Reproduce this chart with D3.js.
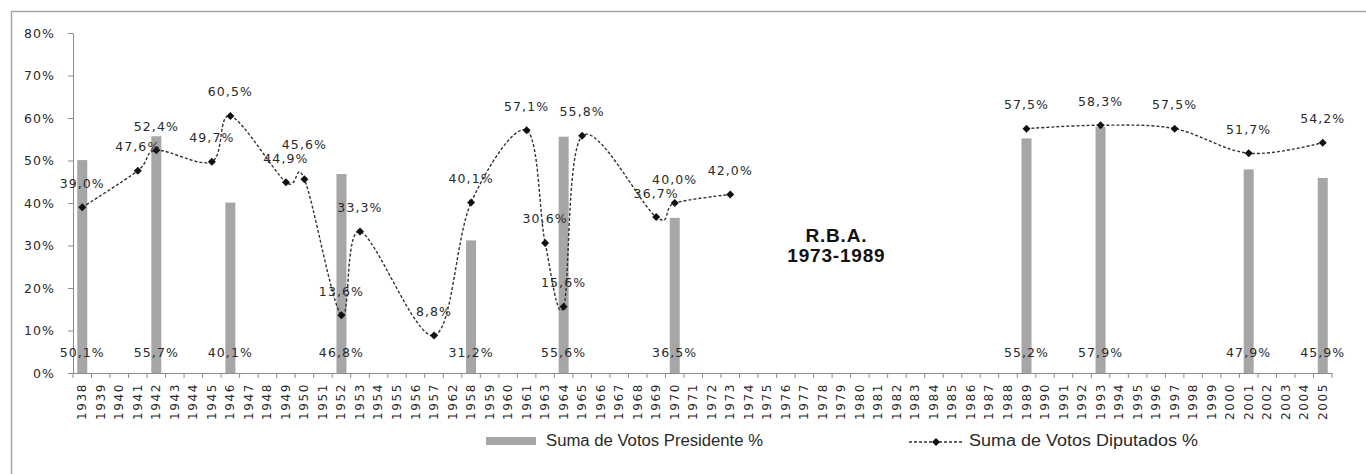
<!DOCTYPE html>
<html><head><meta charset="utf-8">
<script src="https://cdn.jsdelivr.net/npm/d3@7"></script>
<style>
html,body{margin:0;padding:0;background:#fff;overflow:hidden;}
</style></head>
<body>
<svg id="chart" width="1366" height="474"></svg>
<script>
const categories = ["1938","1939","1940","1941","1942","1943","1944","1945","1946","1947","1948","1949","1950","1951","1952","1953","1954","1955","1956","1957","1962","1958","1959","1960","1961","1963","1964","1965","1966","1967","1968","1969","1970","1971","1972","1973","1974","1975","1976","1977","1978","1979","1980","1981","1982","1983","1984","1985","1986","1987","1988","1989","1990","1991","1992","1993","1994","1995","1996","1997","1998","1999","2000","2001","2002","2003","2004","2005"];
const presidenteYears = ["1938","1942","1946","1952","1958","1964","1970","1989","1993","2001","2005"];
const presidenteValues = [50.1,55.7,40.1,46.8,31.2,55.6,36.5,55.2,57.9,47.9,45.9];
const diputadosYears = ["1938","1941","1942","1945","1946","1949","1950","1952","1953","1957","1958","1961","1963","1964","1965","1969","1970","1973","1989","1993","1997","2001","2005"];
const diputadosValues = [39.0,47.6,52.4,49.7,60.5,44.9,45.6,13.6,33.3,8.8,40.1,57.1,30.6,15.6,55.8,36.7,40.0,42.0,57.5,58.3,57.5,51.7,54.2];
const yTicks = [0,10,20,30,40,50,60,70,80];
const gapLabel = ["R.B.A.","1973-1989"];
const gapStart = "1973", gapEnd = "1989";
const legendLabels = ["Suma de Votos Presidente %","Suma de Votos Diputados %"];

(function(){
const fmt = v => v.toFixed(1).replace(".", ",") + "%";
const svg = d3.select("#chart");
const pLeft = 73, pRight = 1332, pTop = 33, pBottom = 373;

// outer frame
svg.append("rect").attr("x",11.5).attr("y",11.5).attr("width",1400).attr("height",500)
  .attr("fill","none").attr("stroke","#a6a6a6").attr("stroke-width",1.5);

const x = d3.scaleBand().domain(categories).range([pLeft,pRight]).padding(0);
const y = d3.scaleLinear().domain([0,80]).range([pBottom,pTop]);
const cx = c => x(c) + x.bandwidth()/2;

const labelFont = "'DejaVu Sans', Verdana, sans-serif";
const textCol = "#2a2a2a";

// y axis
const yAxis = svg.append("g").attr("transform",`translate(${pLeft},0)`)
  .call(d3.axisLeft(y).tickValues(yTicks).tickSize(5).tickPadding(13).tickFormat(d => d + "%"));
yAxis.select(".domain").attr("stroke","#8c8c8c");
yAxis.selectAll(".tick line").attr("stroke","#8c8c8c");
yAxis.selectAll("text").attr("font-family",labelFont).attr("font-size",12.5)
  .attr("letter-spacing",1.1).attr("fill",textCol);

// bars
const presData = presidenteYears.map((c,i)=>({c, v:presidenteValues[i]}));
const barW = 10;
svg.append("g").selectAll("rect").data(presData).join("rect")
  .attr("x", d => cx(d.c) - barW/2).attr("width", barW)
  .attr("y", d => y(d.v)).attr("height", d => y(0) - y(d.v))
  .attr("fill","#a6a6a6");

// x axis
const xAxis = svg.append("g").attr("transform",`translate(0,${pBottom})`)
  .call(d3.axisBottom(x).tickSize(0).tickFormat(""));
xAxis.select(".domain").attr("stroke","#8c8c8c");
xAxis.selectAll(".tick").remove();
const bounds = categories.map(c => x(c)).concat([pRight]);
svg.append("g").selectAll("line").data(bounds).join("line")
  .attr("x1", d=>d).attr("x2", d=>d).attr("y1", pBottom).attr("y2", pBottom+5)
  .attr("stroke","#8c8c8c");
svg.append("g").selectAll("text").data(categories).join("text")
  .attr("transform", c => `translate(${cx(c)+4},383) rotate(-90)`)
  .attr("text-anchor","end").attr("font-family",labelFont).attr("font-size",12)
  .attr("letter-spacing",1.6).attr("fill",textCol).text(c => c);

// line (two periods, broken by the R.B.A. gap)
const dipData = diputadosYears.map((c,i)=>({c, v:diputadosValues[i]}));
const gi = categories.indexOf(gapStart);
const seg1 = dipData.filter(d => categories.indexOf(d.c) <= gi);
const seg2 = dipData.filter(d => categories.indexOf(d.c) >= categories.indexOf(gapEnd));
const line = d3.line().x(d => cx(d.c)).y(d => y(d.v)).curve(d3.curveCardinal.tension(0));
[seg1, seg2].forEach(s => {
  svg.append("path").attr("d", line(s)).attr("fill","none")
    .attr("stroke","#333").attr("stroke-width",1.4).attr("stroke-dasharray","3,2");
});
const dm = 4;
const diamond = `M0,${-dm}L${dm},0L0,${dm}L${-dm},0Z`;
svg.append("g").selectAll("path").data(dipData).join("path")
  .attr("d", diamond).attr("transform", d => `translate(${cx(d.c)},${y(d.v)})`)
  .attr("fill","#111");

// data labels (one label nudged upward, as in the source)
const nudge = {"1950": -11};
svg.append("g").selectAll("text").data(dipData).join("text")
  .attr("x", d => cx(d.c)).attr("y", d => y(d.v) - 23 + (nudge[d.c] || 0))
  .attr("text-anchor","middle").attr("dominant-baseline","middle")
  .attr("font-family",labelFont).attr("font-size",12.5).attr("letter-spacing",1.1)
  .attr("fill",textCol).text(d => fmt(d.v));
svg.append("g").selectAll("text").data(presData).join("text")
  .attr("x", d => cx(d.c)).attr("y", y(0) - 20)
  .attr("text-anchor","middle").attr("dominant-baseline","middle")
  .attr("font-family",labelFont).attr("font-size",12.5).attr("letter-spacing",1.1)
  .attr("fill",textCol).text(d => fmt(d.v));

// gap annotation
const gx = (cx(gapStart) + cx(gapEnd)) / 2 - 42;
svg.append("g").selectAll("text").data(gapLabel).join("text")
  .attr("x", gx).attr("y", (d,i) => 237 + i*20)
  .attr("text-anchor","middle").attr("dominant-baseline","middle")
  .attr("font-family","'Liberation Sans', Arial, sans-serif").attr("font-weight","bold")
  .attr("font-size",19).attr("letter-spacing",0.8).attr("fill","#111").text(d => d);

// legend
const legFont = "'Liberation Sans Narrow', 'Arial Narrow', 'Liberation Sans', sans-serif";
const lg = svg.append("g");
lg.append("rect").attr("x",486).attr("y",437).attr("width",50).attr("height",8).attr("fill","#a6a6a6");
lg.append("text").attr("x",546).attr("y",442).attr("dominant-baseline","middle")
  .attr("font-family",legFont).attr("font-size",16).attr("textLength",217).attr("lengthAdjust","spacingAndGlyphs")
  .attr("fill",textCol).text(legendLabels[0]);
lg.append("line").attr("x1",909).attr("x2",964).attr("y1",442).attr("y2",442)
  .attr("stroke","#333").attr("stroke-width",1.4).attr("stroke-dasharray","3,2");
lg.append("path").attr("d",diamond).attr("transform","translate(936,442)").attr("fill","#111");
lg.append("text").attr("x",969).attr("y",442).attr("dominant-baseline","middle")
  .attr("font-family",legFont).attr("font-size",16).attr("textLength",229).attr("lengthAdjust","spacingAndGlyphs")
  .attr("fill",textCol).text(legendLabels[1]);
})();
</script>
</body></html>
